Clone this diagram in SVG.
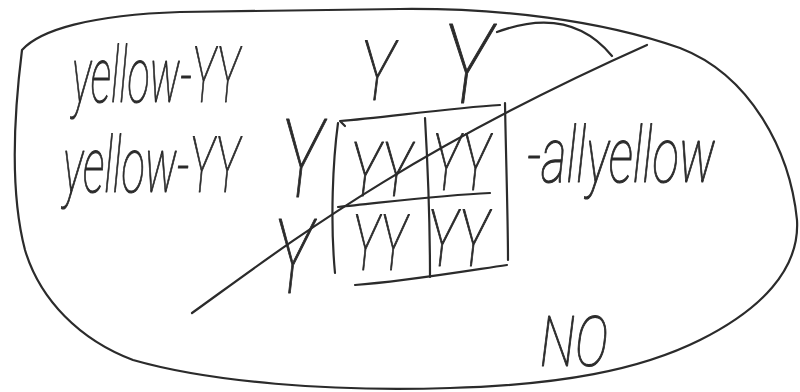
<svg xmlns="http://www.w3.org/2000/svg" width="800" height="392" viewBox="0 0 800 392">
<style>
.ln{fill:none;stroke:#2b2b2b;stroke-width:2.2;stroke-linecap:round;stroke-linejoin:round}
.hw{font-family:Roboto,"Liberation Sans","DejaVu Sans",sans-serif;font-weight:100;fill:#2b2b2b;stroke:#2b2b2b;stroke-width:1.1;stroke-linejoin:round;font-style:italic}
</style>
<rect width="800" height="392" fill="#ffffff"/>
<g id="outline">
<path class="ln" d="M22,50 C40,30 90,15 180,12 L400,9 C500,8 600,20 680,48 C750,75 790,150 797,220 C800,270 760,310 700,340 C640,370 560,385 450,388 C330,392 210,382 133,360 C80,340 40,300 25,250 C12,200 12,130 22,50 Z"/>
<path class="ln" d="M497,32 Q570,5 612,56"/>
<path class="ln" d="M192,313 C280,250 400,155 647,45"/>
</g>
<g id="grid">
<path class="ln" d="M345,126 L340,121 C380,118 450,108 500,105"/>
<path class="ln" d="M338,123 C333,160 330,220 335,273"/>
<path class="ln" d="M425,118 C428,170 430,230 430,277"/>
<path class="ln" d="M505,103 C506,160 508,220 508,260"/>
<path class="ln" d="M338,207 C380,203 440,195 490,193"/>
<path class="ln" d="M355,285 C400,282 460,272 507,265"/>
</g>
<g id="labels">
<text class="hw" x="72" y="102" font-size="78" textLength="168" lengthAdjust="spacingAndGlyphs">yellow-YY</text>
<text class="hw" x="63" y="192" font-size="78" textLength="177" lengthAdjust="spacingAndGlyphs">yellow-YY</text>
<text class="hw" x="527" y="182" font-size="78" textLength="188" lengthAdjust="spacingAndGlyphs">-allyellow</text>
<text class="hw" x="540" y="366" font-size="70" textLength="68" lengthAdjust="spacingAndGlyphs">NO</text>
</g>
<g id="alleles">
<text class="hw" x="360" y="100" font-size="84" textLength="35" lengthAdjust="spacingAndGlyphs">Y</text>
<text class="hw" x="442" y="103" font-size="112" textLength="50" lengthAdjust="spacingAndGlyphs">Y</text>
<text class="hw" x="280" y="197" font-size="110" textLength="43" lengthAdjust="spacingAndGlyphs">Y</text>
<text class="hw" x="273" y="293" font-size="104" textLength="40" lengthAdjust="spacingAndGlyphs">Y</text>
</g>
<g id="cells">
<text class="hw" x="350" y="196" font-size="76" textLength="62" lengthAdjust="spacingAndGlyphs">YY</text>
<text class="hw" x="432" y="190" font-size="80" textLength="58" lengthAdjust="spacingAndGlyphs">YY</text>
<text class="hw" x="352" y="270" font-size="78" textLength="55" lengthAdjust="spacingAndGlyphs">YY</text>
<text class="hw" x="427" y="266" font-size="80" textLength="62" lengthAdjust="spacingAndGlyphs">YY</text>
</g>
</svg>
